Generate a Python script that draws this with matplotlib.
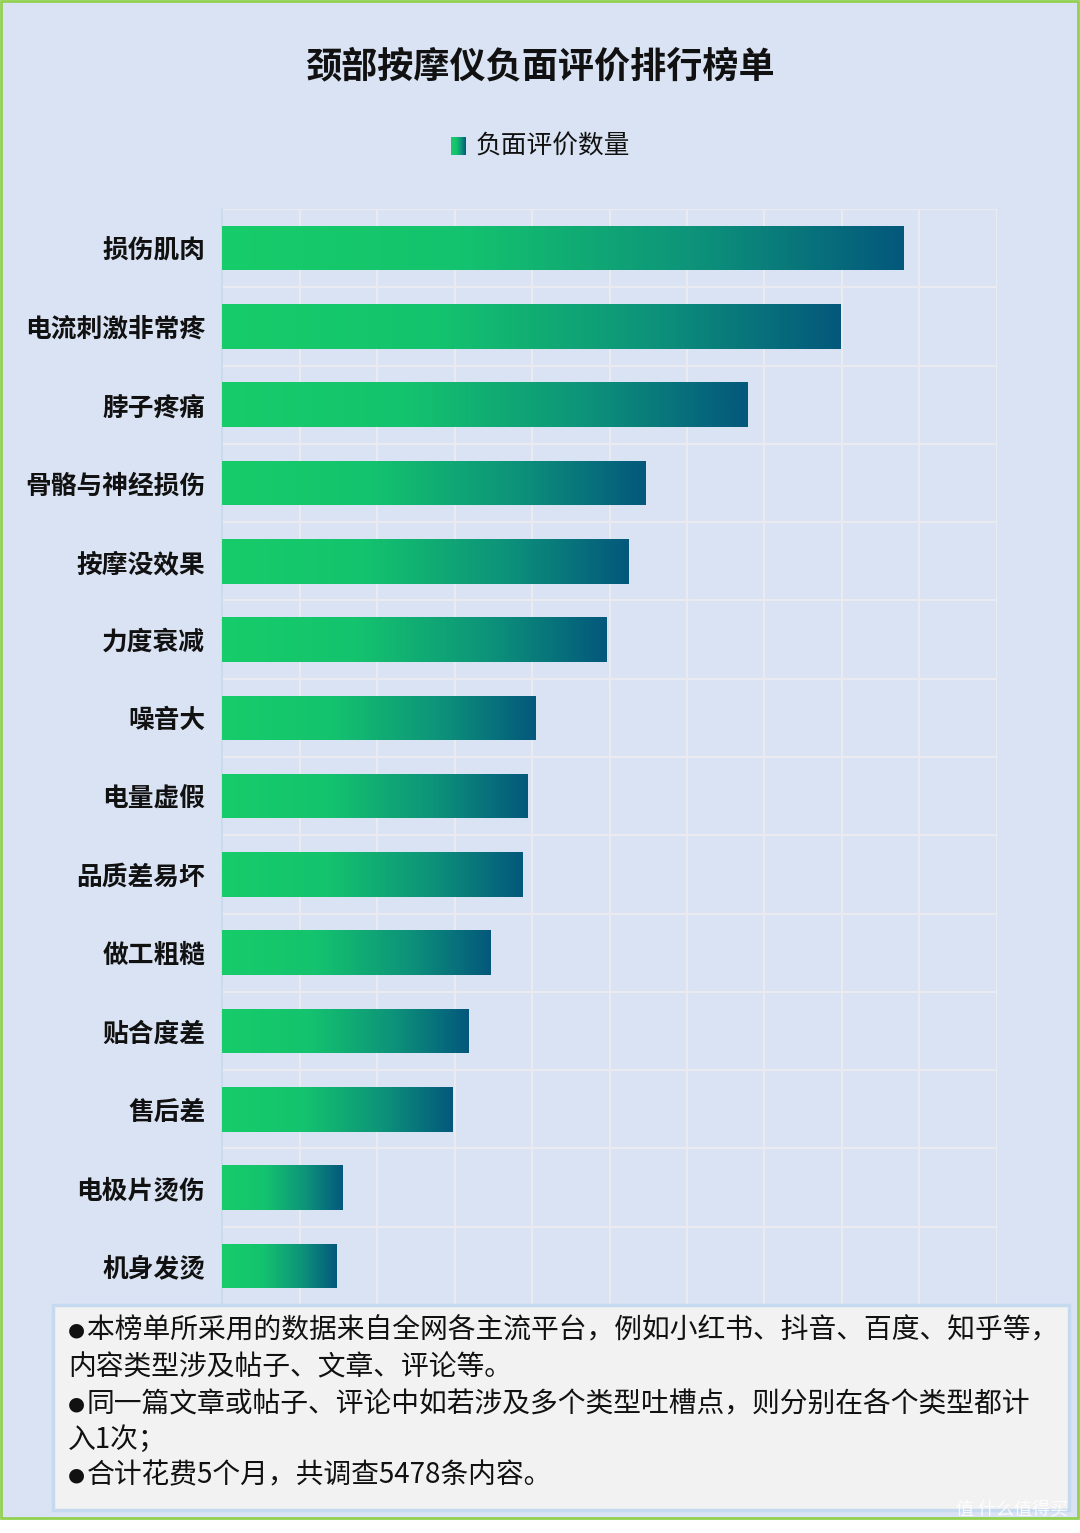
import numpy as np
import matplotlib
matplotlib.use("Agg")
import matplotlib.pyplot as plt
from matplotlib.colors import LinearSegmentedColormap
from matplotlib.patches import Rectangle

# data (grid step = 50)
categories = ['损伤肌肉', '电流刺激非常疼', '脖子疼痛', '骨骼与神经损伤', '按摩没效果',
              '力度衰减', '噪音大', '电量虚假', '品质差易坏', '做工粗糙',
              '贴合度差', '售后差', '电极片烫伤', '机身发烫']
counts = [440, 399, 339, 273, 262, 248, 202, 197, 194, 173, 159, 149, 78, 74]
series_name = '负面评价数量'
title = '颈部按摩仪负面评价排行榜单'
notes = ['本榜单所采用的数据来自全网各主流平台，例如小红书、抖音、百度、知乎等，',
         '内容类型涉及帖子、文章、评论等。',
         '同一篇文章或帖子、评论中如若涉及多个类型吐槽点，则分别在各个类型都计',
         '入1次；',
         '合计花费5个月，共调查5478条内容。']
bullet_lines = [True, False, True, False, True]

plt.rcParams['font.family'] = ['Noto Sans CJK SC', 'DejaVu Sans']

W, H = 1080, 1533
bg = '#dae3f3'
grid_c = '#e9ebf0'
cmap = LinearSegmentedColormap.from_list(
    'neg', [(0, '#17cc69'), (0.35, '#14c36e'), (0.7, '#0d927a'), (1, '#04587c')])

fig = plt.figure(figsize=(W / 100, H / 100), dpi=100, facecolor='white')

def fx(px):
    return px / W

def fy(py):
    return 1 - py / H

# chart area background with green frame
fig.patches.append(Rectangle((fx(1), fy(1518)), fx(1077), 1517 / H, transform=fig.transFigure,
                             facecolor=bg, edgecolor='#92d050', lw=2, zorder=-10))

ax = fig.add_axes([fx(222), fy(1305), fx(997) - fx(222), (1305 - 209) / H])
ax.patch.set_alpha(0)
n = len(categories)
y = np.arange(n)
bars = ax.barh(y, counts, height=0.57, color='none', zorder=3)
grad = np.linspace(0, 1, 256).reshape(1, -1)
for b in bars:
    x0, y0 = b.get_x(), b.get_y()
    w, h = b.get_width(), b.get_height()
    im = ax.imshow(grad, cmap=cmap, aspect='auto', extent=[x0, x0 + w, y0, y0 + h],
                   zorder=3, interpolation='bilinear')
    im.set_clip_path(b)

ax.set_xlim(0, 500)
ax.set_ylim(n - 0.5, -0.5)
ax.set_xticks(np.arange(0, 501, 50))
ax.set_yticks(np.arange(-0.5, n, 1), minor=True)
ax.set_yticks(y)
ax.set_yticklabels(categories, fontsize=18.5, fontweight='bold', color='#111111')
ax.tick_params(axis='y', which='both', length=0, pad=12)
ax.tick_params(axis='x', length=0, labelbottom=False)
ax.grid(axis='x', color=grid_c, lw=1.6, zorder=1)
ax.grid(axis='y', which='minor', color=grid_c, lw=1.6, zorder=1)
ax.grid(axis='y', which='major', visible=False)
ax.set_axisbelow(True)
for s in ['top', 'right', 'bottom']:
    ax.spines[s].set_visible(False)
ax.spines['left'].set_color('#c8d8ee')
ax.spines['left'].set_linewidth(1.2)

# title and legend
fig.text(0.5, fy(67), title, ha='center', va='center', fontsize=26, fontweight='bold', color='#111111')
lax = fig.add_axes([fx(451), fy(155), fx(15), 18 / H])
lax.imshow(grad, cmap=cmap, aspect='auto', extent=[0, 1, 0, 1])
lax.set_axis_off()
fig.text(fx(476), fy(147), series_name, ha='left', va='center', fontsize=18.5, color='#111111')

# notes box
fig.patches.append(Rectangle((fx(53), fy(1510)), fx(1016), (1510 - 1305) / H, transform=fig.transFigure,
                             facecolor='#f2f2f2', edgecolor='#c5d9ef', lw=2.5, zorder=5))
line_y = [1330, 1367, 1404, 1440, 1475]
for txt, ly, bul in zip(notes, line_y, bullet_lines):
    x_txt = 68
    if bul:
        fig.text(fx(68), fy(ly), '●', ha='left', va='center', fontsize=14,
                 family='DejaVu Sans', color='#111111', zorder=6)
        x_txt = 87
    fig.text(fx(x_txt), fy(ly), txt, ha='left', va='center', fontsize=20, color='#111111', zorder=6)

# watermark
fig.text(fx(1068), fy(1510), '值 什么值得买', ha='right', va='center', fontsize=13,
         color='white', alpha=0.85, zorder=7)

fig.savefig('out.png', dpi=100, facecolor='white')
